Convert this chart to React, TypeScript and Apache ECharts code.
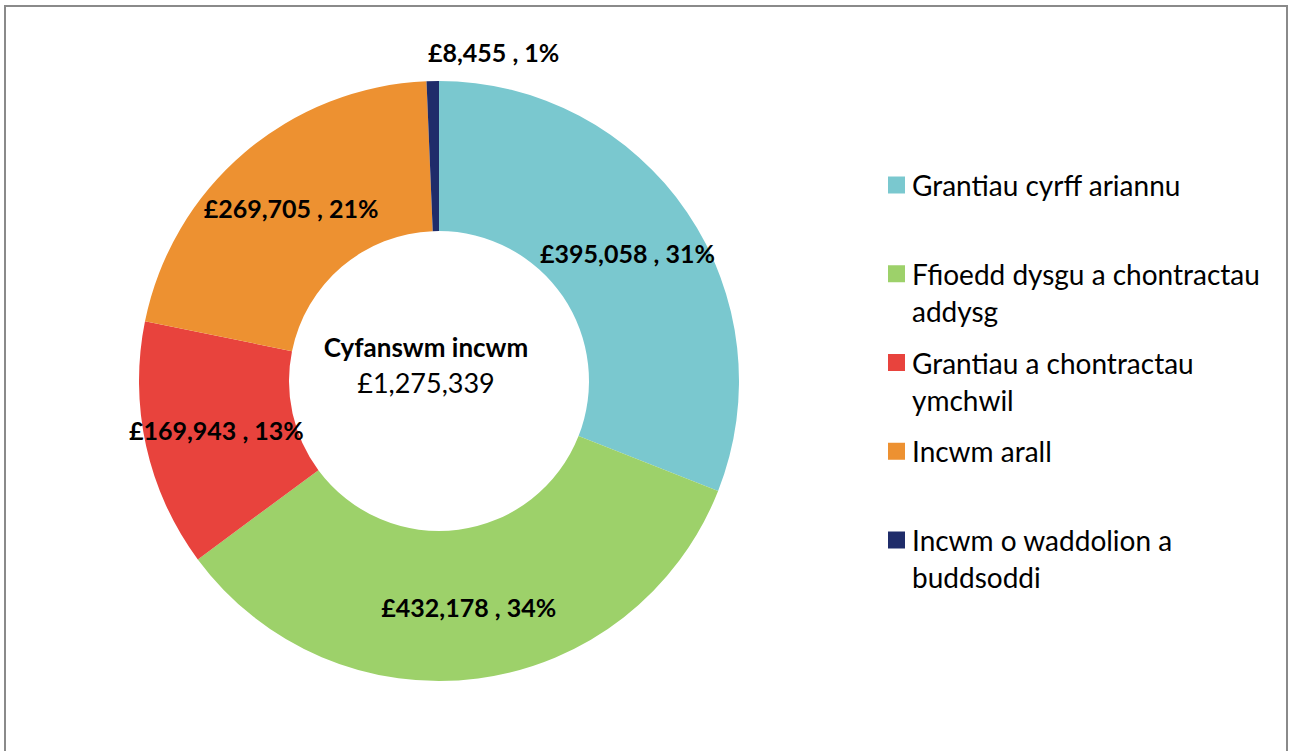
import React, { useEffect, useRef } from 'react';
import * as echarts from 'echarts';

const categories = [
  'Grantiau cyrff ariannu',
  'Ffioedd dysgu a chontractau addysg',
  'Grantiau a chontractau ymchwil',
  'Incwm arall',
  'Incwm o waddolion a buddsoddi',
];
const legendLabels = [
  'Grantiau cyrff ariannu',
  'Ffioedd dysgu a chontractau\naddysg',
  'Grantiau a chontractau\nymchwil',
  'Incwm arall',
  'Incwm o waddolion a\nbuddsoddi',
];
const values = [395058, 432178, 169943, 269705, 8455];
const colors = ['#7AC8CF', '#9DD16A', '#E8433D', '#ED9131', '#1F2C6A'];
const centerTitle = 'Cyfanswm incwm';

const FONT = 'Lato, "Open Sans", sans-serif';

const fmt = (v: number) => '£' + v.toLocaleString('en-GB');

export default function App() {
  const ref = useRef<HTMLDivElement>(null);
  useEffect(() => {
    if (!ref.current) return;
    const chart = echarts.init(ref.current, undefined, { renderer: 'svg' });
    const total = values.reduce((a, b) => a + b, 0);
    const cx = 439;
    const cy = 381;
    const rOuter = 300;

    const legendGraphics: any[] = [];
    legendLabels.forEach((lab, i) => {
      const y = 185 + i * 88.75;
      legendGraphics.push({
        type: 'rect',
        shape: { x: 888, y: y - 8.5, width: 17, height: 17 },
        style: { fill: colors[i] },
        silent: true,
      });
      legendGraphics.push({
        type: 'text',
        x: 912,
        y: y - 18.5,
        style: {
          text: lab,
          fontFamily: FONT,
          fontSize: 28,
          lineHeight: 37,
          fill: '#000',
          textAlign: 'left',
          textVerticalAlign: 'top',
        },
        silent: true,
      });
    });

    chart.setOption({
      animation: false,
      backgroundColor: '#fff',
      graphic: [
        {
          type: 'rect',
          shape: { x: 5, y: 6, width: 1282, height: 770 },
          style: { fill: 'none', stroke: '#8a8a8a', lineWidth: 2 },
          silent: true,
          z: -1,
        },
        {
          type: 'text',
          x: 426,
          y: 347,
          style: {
            text: centerTitle,
            fontFamily: FONT,
            fontWeight: 'bold',
            fontSize: 26,
            fill: '#000',
            textAlign: 'center',
            textVerticalAlign: 'middle',
          },
          silent: true,
        },
        {
          type: 'text',
          x: 426,
          y: 382,
          style: {
            text: fmt(total),
            fontFamily: FONT,
            fontSize: 27,
            fill: '#000',
            textAlign: 'center',
            textVerticalAlign: 'middle',
          },
          silent: true,
        },
        ...legendGraphics,
      ],
      series: [
        {
          type: 'pie',
          center: [cx, cy],
          radius: [150, rOuter],
          startAngle: 90,
          clockwise: true,
          avoidLabelOverlap: false,
          emphasis: { disabled: true },
          label: {
            show: true,
            position: 'inside',
            fontFamily: FONT,
            fontWeight: 'bold',
            fontSize: 25,
            color: '#000',
            formatter: (p: any) => `${fmt(p.value)} , ${Math.round(p.percent)}%`,
          },
          labelLine: { show: false },
          labelLayout: (p: any) => {
            if (p.dataIndex === 4) {
              return { x: cx - 11, y: cy - rOuter - 29, align: 'left', verticalAlign: 'middle' };
            }
            return {};
          },
          data: categories.map((n, i) => ({
            name: n,
            value: values[i],
            itemStyle: { color: colors[i] },
          })),
        },
      ],
    });
    return () => chart.dispose();
  }, []);
  return (
    <div
      ref={ref}
      style={{ position: 'absolute', left: 0, top: 0, width: 1290, height: 751 }}
    />
  );
}
